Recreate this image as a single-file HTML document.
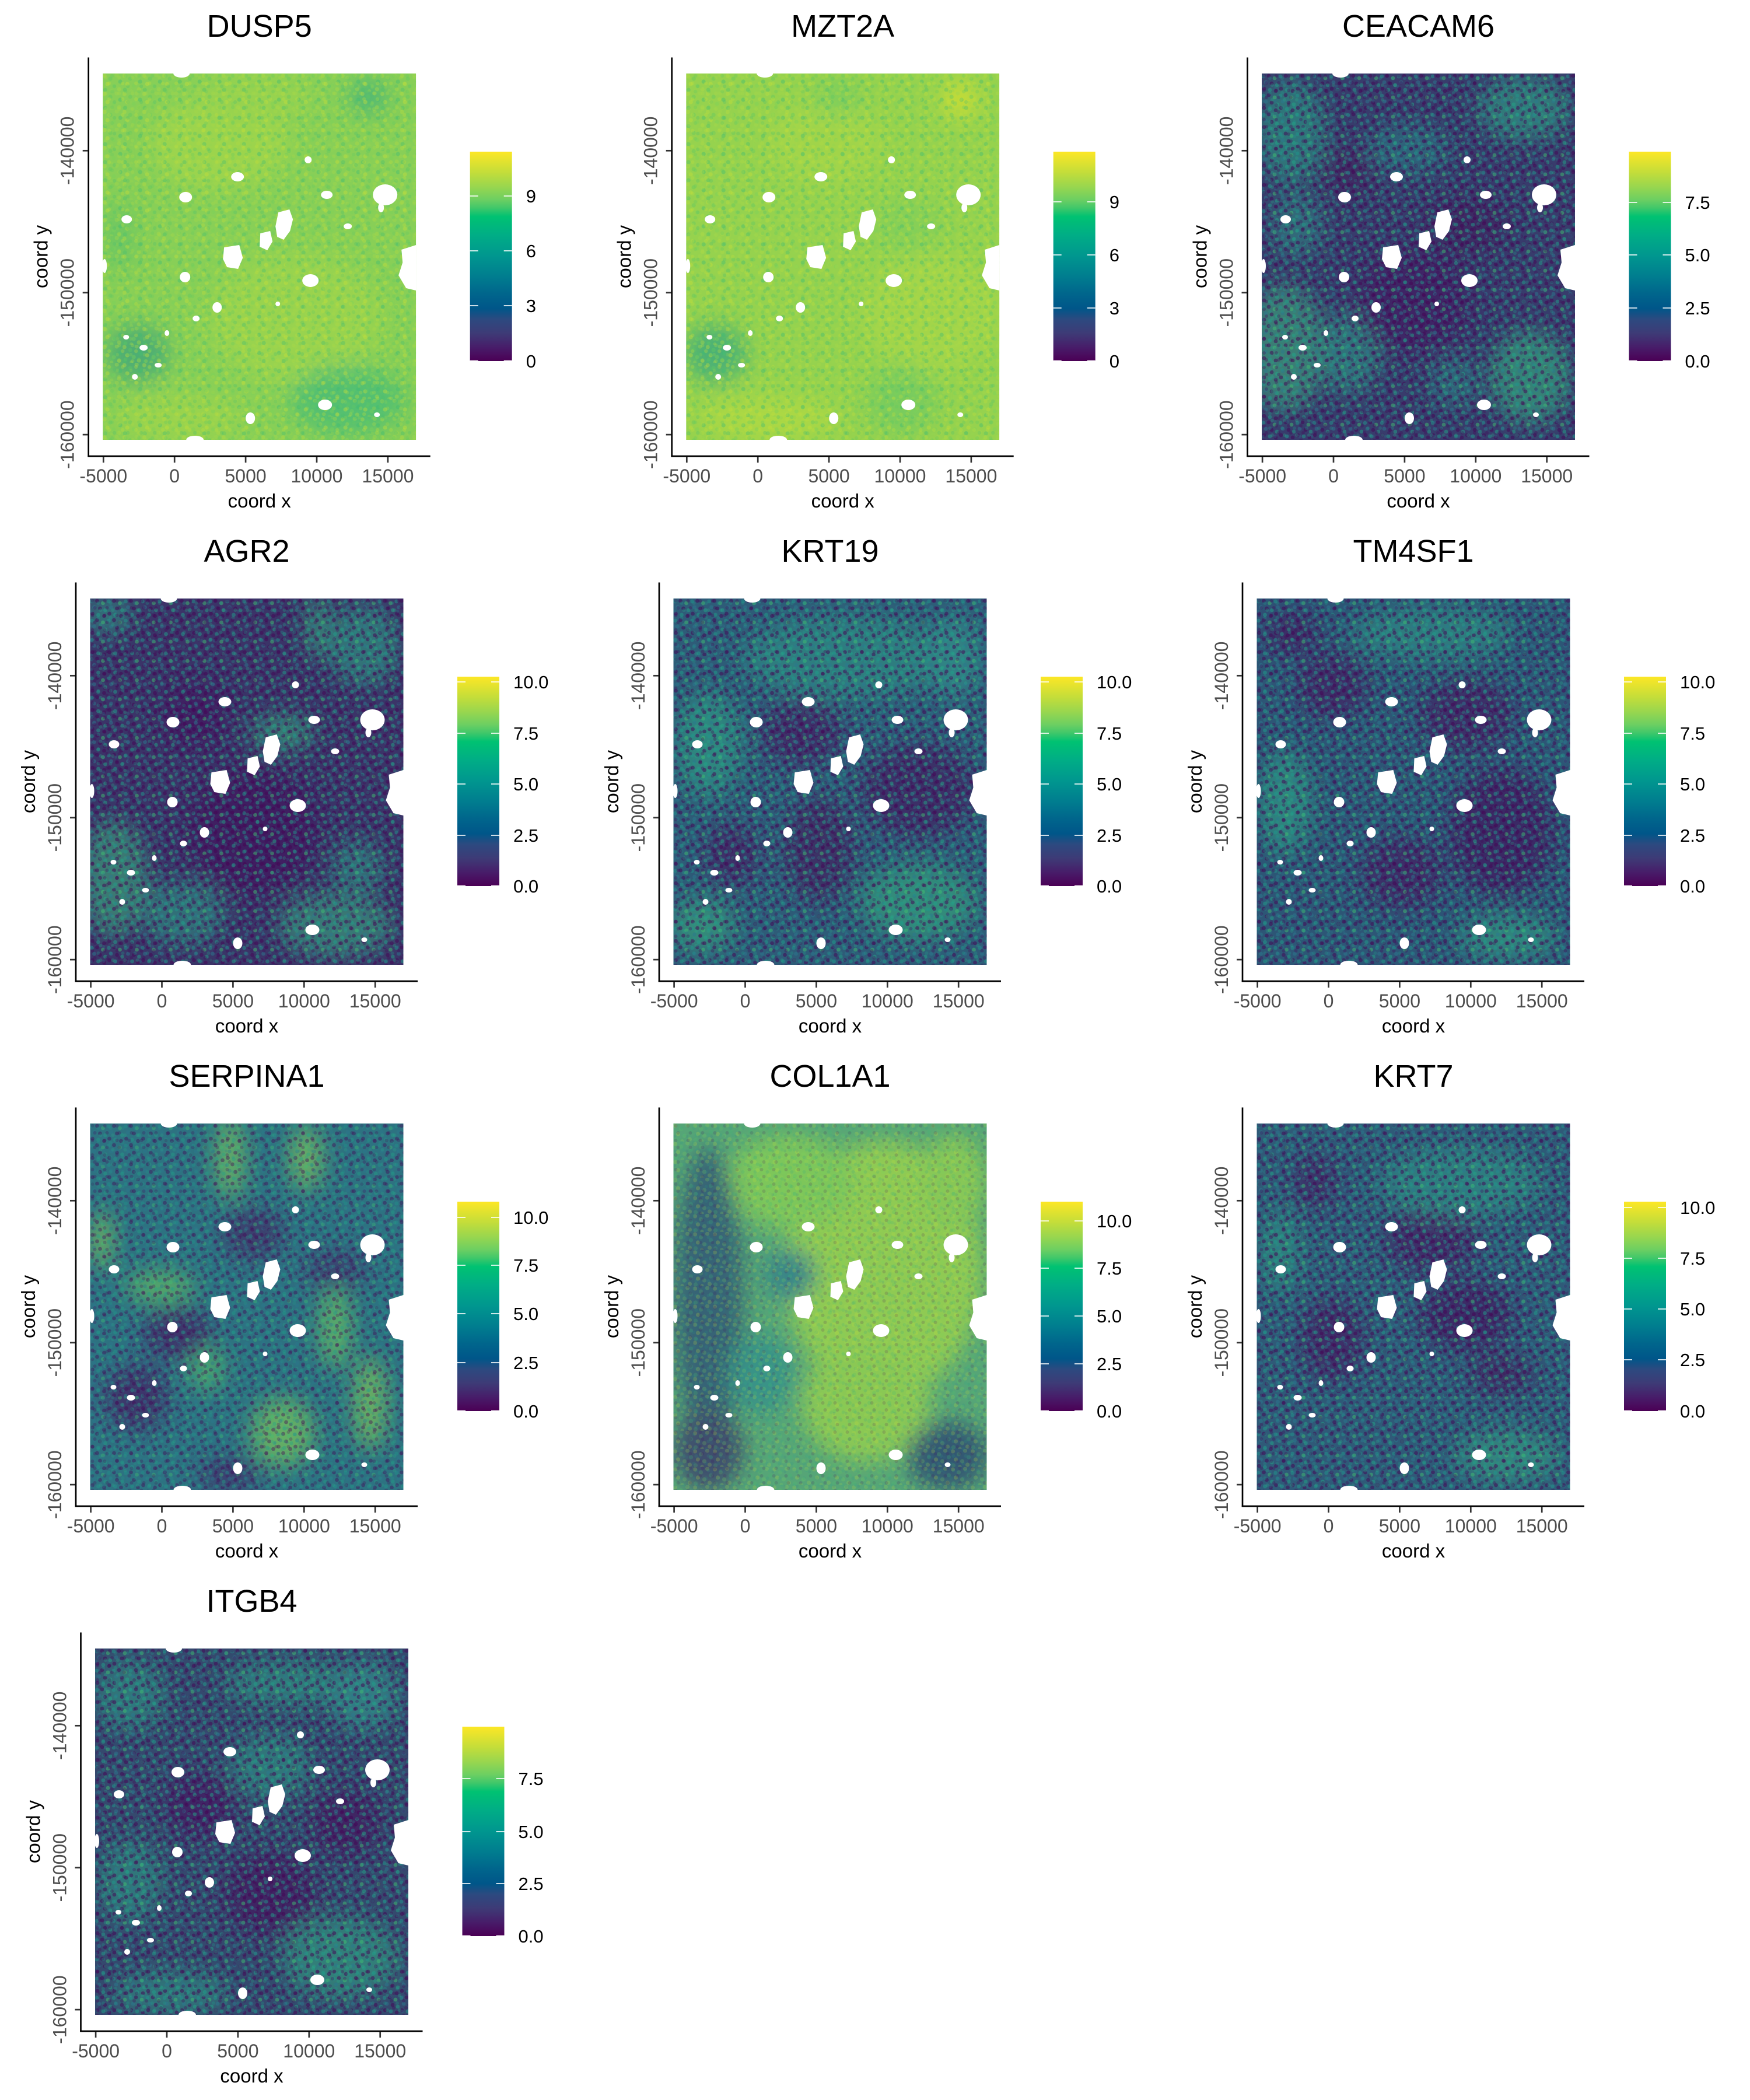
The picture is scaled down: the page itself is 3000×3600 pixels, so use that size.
<!DOCTYPE html>
<html><head><meta charset="utf-8"><style>
html,body{margin:0;padding:0;background:#fff;}
svg{display:block;}
text{font-family:"Liberation Sans",Arial,sans-serif;}
.t{font-size:54px;fill:#000;text-anchor:middle;}
.tk{font-size:32px;fill:#4d4d4d;text-anchor:middle;}
.at{font-size:33px;fill:#000;text-anchor:middle;}
.lg{font-size:31px;fill:#000;}
.al{stroke:#000;stroke-width:2.7;}
.tm{stroke:#333;stroke-width:2.7;}
.cw{stroke:#fff;stroke-width:1.6;}
</style></head><body>
<svg width="3000" height="3600" viewBox="0 0 3000 3600" xmlns="http://www.w3.org/2000/svg">
<defs>
<linearGradient id="cb" x1="0" y1="1" x2="0" y2="0">
<stop offset="0" stop-color="#4b0055"/><stop offset="0.06" stop-color="#481a68"/><stop offset="0.13" stop-color="#3e3a76"/><stop offset="0.2" stop-color="#2c4a80"/><stop offset="0.25" stop-color="#005689"/><stop offset="0.32" stop-color="#00658c"/><stop offset="0.4" stop-color="#007c8f"/><stop offset="0.5" stop-color="#00968f"/><stop offset="0.6" stop-color="#00ad86"/><stop offset="0.69" stop-color="#00c272"/><stop offset="0.73" stop-color="#3ec76a"/><stop offset="0.77" stop-color="#6ccf62"/><stop offset="0.83" stop-color="#97d64f"/><stop offset="0.9" stop-color="#c3dd3a"/><stop offset="1" stop-color="#fde725"/>
</linearGradient>
<clipPath id="dc"><rect width="537" height="628"/></clipPath>
<filter id="bl" x="-50%" y="-50%" width="200%" height="200%"><feGaussianBlur stdDeviation="18"/></filter>
<pattern id="spG" width="34" height="31" patternUnits="userSpaceOnUse">
<circle cx="3" cy="4" r="3.6" fill="#b9db3e"/><circle cx="13" cy="9" r="3.6" fill="#5ec862"/><circle cx="24" cy="3" r="3.6" fill="#a2d64a"/><circle cx="30" cy="14" r="3.6" fill="#3cbb74"/><circle cx="8" cy="18" r="3.6" fill="#c6df38"/><circle cx="19" cy="21" r="3.6" fill="#7ad15a"/><circle cx="28" cy="27" r="3.6" fill="#aed943"/><circle cx="4" cy="28" r="3.6" fill="#4cc06c"/><circle cx="15" cy="30" r="3" fill="#95d44f"/>
</pattern>
<pattern id="spG2" width="23" height="27" patternUnits="userSpaceOnUse">
<circle cx="5" cy="7" r="3.2" fill="#a9d846"/><circle cx="16" cy="4" r="3.2" fill="#62c960"/><circle cx="11" cy="17" r="3.2" fill="#c2de3a"/><circle cx="20" cy="22" r="3.2" fill="#4dbf6c"/><circle cx="2" cy="23" r="3" fill="#8dd152"/>
</pattern>
<pattern id="spD" width="29" height="33" patternUnits="userSpaceOnUse">
<circle cx="3" cy="5" r="3.4" fill="#1f968b"/><circle cx="12" cy="4" r="3.4" fill="#440154"/><circle cx="22" cy="8" r="3.4" fill="#3fbf70"/><circle cx="7" cy="15" r="3.4" fill="#2a788e"/><circle cx="17" cy="17" r="3.4" fill="#440154"/><circle cx="26" cy="20" r="3.4" fill="#21a585"/><circle cx="4" cy="26" r="3.4" fill="#440154"/><circle cx="14" cy="28" r="3.4" fill="#1f9e89"/><circle cx="24" cy="30" r="3.4" fill="#440154"/>
</pattern>
<pattern id="spD2" width="21" height="25" patternUnits="userSpaceOnUse">
<circle cx="4" cy="4" r="3" fill="#440154"/><circle cx="14" cy="8" r="3" fill="#1f9a8a"/><circle cx="8" cy="16" r="3" fill="#440154"/><circle cx="18" cy="20" r="3" fill="#27a98a"/><circle cx="2" cy="22" r="2.6" fill="#2a788e"/>
</pattern>
<g id="holes" fill="#fff">
<ellipse cx="484" cy="208" rx="21" ry="18"/><ellipse cx="477" cy="230" rx="5" ry="8"/>
<path d="M301,238 L320,233 L326,250 L321,270 L310,285 L299,280 L296,262 Z"/>
<path d="M270,274 L287,270 L291,288 L282,303 L269,297 Z"/>
<path d="M208,298 L234,294 L240,316 L232,335 L213,332 L206,318 Z"/>
<ellipse cx="141" cy="349" rx="9" ry="9"/><ellipse cx="356" cy="355" rx="14" ry="11"/>
<ellipse cx="352" cy="148" rx="6" ry="6"/><ellipse cx="231" cy="177" rx="11" ry="8"/>
<ellipse cx="142" cy="212" rx="11" ry="9"/><ellipse cx="196" cy="401" rx="8" ry="9"/>
<ellipse cx="41" cy="250" rx="9" ry="7"/><ellipse cx="40" cy="452" rx="5" ry="4"/>
<ellipse cx="70" cy="470" rx="7" ry="5"/><ellipse cx="95" cy="500" rx="6" ry="4"/>
<ellipse cx="55" cy="520" rx="5" ry="5"/><ellipse cx="110" cy="445" rx="4" ry="5"/>
<ellipse cx="381" cy="568" rx="12" ry="9"/><ellipse cx="253" cy="591" rx="8" ry="10"/>
<path d="M512,302 L537,294 L537,372 L520,368 L507,346 L514,324 Z"/>
<ellipse cx="135" cy="0" rx="14" ry="7"/><ellipse cx="158" cy="628" rx="15" ry="7"/>
<ellipse cx="384" cy="208" rx="10" ry="7"/><ellipse cx="3" cy="330" rx="4" ry="12"/>
<ellipse cx="420" cy="262" rx="7" ry="5"/><ellipse cx="160" cy="420" rx="6" ry="5"/>
<ellipse cx="300" cy="395" rx="4" ry="4"/><ellipse cx="470" cy="585" rx="5" ry="4"/>
</g>
</defs>
<rect width="3000" height="3600" fill="#fff"/>

<!-- ============ DUSP5 ============ -->
<g transform="translate(151.7,0)">
<text class="t" x="293" y="63">DUSP5</text>
<g transform="translate(24.5,126)">
<g clip-path="url(#dc)">
<rect width="537" height="628" fill="#88cf57"/>
<g filter="url(#bl)" opacity=".85">
<ellipse cx="200" cy="120" rx="120" ry="80" fill="#a0d54b"/><ellipse cx="330" cy="420" rx="150" ry="110" fill="#9cd44d"/>
<ellipse cx="130" cy="590" rx="110" ry="40" fill="#9ed44c"/><ellipse cx="260" cy="40" rx="100" ry="40" fill="#9ad34d"/>
<ellipse cx="420" cy="560" rx="100" ry="60" fill="#4cbd76"/><ellipse cx="455" cy="40" rx="35" ry="30" fill="#45b47a"/>
<ellipse cx="60" cy="480" rx="55" ry="50" fill="#45a878"/><ellipse cx="30" cy="280" rx="25" ry="60" fill="#66c466"/>
</g>
<rect width="537" height="628" fill="url(#spG)" opacity=".4"/>
<rect width="537" height="628" fill="url(#spG2)" opacity=".3"/>
</g>
<use href="#holes"/>
</g>
<line class="al" x1="0" y1="98.5" x2="0" y2="783"/><line class="al" x1="-1.3" y1="782" x2="586" y2="782"/>
<line class="tm" x1="25.6" y1="783" x2="25.6" y2="793"/><line class="tm" x1="147.5" y1="783" x2="147.5" y2="793"/><line class="tm" x1="269.4" y1="783" x2="269.4" y2="793"/><line class="tm" x1="391.3" y1="783" x2="391.3" y2="793"/><line class="tm" x1="513.2" y1="783" x2="513.2" y2="793"/>
<line class="tm" x1="-10" y1="258.3" x2="-1" y2="258.3"/><line class="tm" x1="-10" y1="501.7" x2="-1" y2="501.7"/><line class="tm" x1="-10" y1="745.1" x2="-1" y2="745.1"/>
<text class="tk" x="25.6" y="827">-5000</text><text class="tk" x="147.5" y="827">0</text><text class="tk" x="269.4" y="827">5000</text><text class="tk" x="391.3" y="827">10000</text><text class="tk" x="513.2" y="827">15000</text>
<text class="tk" transform="translate(-25,258.3) rotate(-90)">-140000</text><text class="tk" transform="translate(-25,501.7) rotate(-90)">-150000</text><text class="tk" transform="translate(-25,745.1) rotate(-90)">-160000</text>
<text class="at" x="293" y="870">coord x</text><text class="at" transform="translate(-70,440) rotate(-90)">coord y</text>
<rect x="654" y="260" width="72" height="359" fill="url(#cb)"/>
<line class="cw" x1="654" y1="336" x2="668" y2="336"/><line class="cw" x1="712" y1="336" x2="726" y2="336"/>
<line class="cw" x1="654" y1="430" x2="668" y2="430"/><line class="cw" x1="712" y1="430" x2="726" y2="430"/>
<line class="cw" x1="654" y1="524" x2="668" y2="524"/><line class="cw" x1="712" y1="524" x2="726" y2="524"/>
<line class="cw" x1="654" y1="618.5" x2="668" y2="618.5"/><line class="cw" x1="712" y1="618.5" x2="726" y2="618.5"/>
<text class="lg" x="750" y="347">9</text><text class="lg" x="750" y="441">6</text><text class="lg" x="750" y="535">3</text><text class="lg" x="750" y="630">0</text>
</g>

<!-- ============ MZT2A ============ -->
<g transform="translate(1151.7,0)">
<text class="t" x="293" y="63">MZT2A</text>
<g transform="translate(24.5,126)">
<g clip-path="url(#dc)">
<rect width="537" height="628" fill="#96d24e"/>
<g filter="url(#bl)" opacity=".85">
<ellipse cx="470" cy="45" rx="32" ry="32" fill="#d0de33"/><ellipse cx="140" cy="590" rx="120" ry="35" fill="#b0d943"/>
<ellipse cx="420" cy="410" rx="120" ry="100" fill="#a6d648"/><ellipse cx="240" cy="120" rx="100" ry="70" fill="#a4d549"/>
<ellipse cx="50" cy="480" rx="55" ry="50" fill="#40ac7c"/><ellipse cx="370" cy="560" rx="60" ry="60" fill="#74cb60"/>
<ellipse cx="260" cy="40" rx="40" ry="30" fill="#78cc5e"/><ellipse cx="380" cy="260" rx="60" ry="50" fill="#84cf58"/>
</g>
<rect width="537" height="628" fill="url(#spG)" opacity=".4"/>
<rect width="537" height="628" fill="url(#spG2)" opacity=".3"/>
</g>
<use href="#holes"/>
</g>
<line class="al" x1="0" y1="98.5" x2="0" y2="783"/><line class="al" x1="-1.3" y1="782" x2="586" y2="782"/>
<line class="tm" x1="25.6" y1="783" x2="25.6" y2="793"/><line class="tm" x1="147.5" y1="783" x2="147.5" y2="793"/><line class="tm" x1="269.4" y1="783" x2="269.4" y2="793"/><line class="tm" x1="391.3" y1="783" x2="391.3" y2="793"/><line class="tm" x1="513.2" y1="783" x2="513.2" y2="793"/>
<line class="tm" x1="-10" y1="258.3" x2="-1" y2="258.3"/><line class="tm" x1="-10" y1="501.7" x2="-1" y2="501.7"/><line class="tm" x1="-10" y1="745.1" x2="-1" y2="745.1"/>
<text class="tk" x="25.6" y="827">-5000</text><text class="tk" x="147.5" y="827">0</text><text class="tk" x="269.4" y="827">5000</text><text class="tk" x="391.3" y="827">10000</text><text class="tk" x="513.2" y="827">15000</text>
<text class="tk" transform="translate(-25,258.3) rotate(-90)">-140000</text><text class="tk" transform="translate(-25,501.7) rotate(-90)">-150000</text><text class="tk" transform="translate(-25,745.1) rotate(-90)">-160000</text>
<text class="at" x="293" y="870">coord x</text><text class="at" transform="translate(-70,440) rotate(-90)">coord y</text>
<rect x="654" y="260" width="72" height="359" fill="url(#cb)"/>
<line class="cw" x1="654" y1="346" x2="668" y2="346"/><line class="cw" x1="712" y1="346" x2="726" y2="346"/>
<line class="cw" x1="654" y1="437" x2="668" y2="437"/><line class="cw" x1="712" y1="437" x2="726" y2="437"/>
<line class="cw" x1="654" y1="528" x2="668" y2="528"/><line class="cw" x1="712" y1="528" x2="726" y2="528"/>
<line class="cw" x1="654" y1="618.5" x2="668" y2="618.5"/><line class="cw" x1="712" y1="618.5" x2="726" y2="618.5"/>
<text class="lg" x="750" y="357">9</text><text class="lg" x="750" y="448">6</text><text class="lg" x="750" y="539">3</text><text class="lg" x="750" y="630">0</text>
</g>

<!-- ============ CEACAM6 ============ -->
<g transform="translate(2138.5,0)">
<text class="t" x="293" y="63">CEACAM6</text>
<g transform="translate(24.5,126)">
<g clip-path="url(#dc)">
<rect width="537" height="628" fill="#383c6c"/>
<g filter="url(#bl)" opacity=".7">
<ellipse cx="50" cy="100" rx="60" ry="90" fill="#2c8f80"/><ellipse cx="450" cy="60" rx="80" ry="55" fill="#2e9480"/>
<ellipse cx="40" cy="470" rx="70" ry="110" fill="#3a9a7a"/><ellipse cx="150" cy="480" rx="50" ry="70" fill="#2f8a80"/>
<ellipse cx="460" cy="520" rx="70" ry="80" fill="#35a07c"/><ellipse cx="60" cy="260" rx="45" ry="55" fill="#2f8080"/>
<ellipse cx="250" cy="130" rx="70" ry="45" fill="#2a7580"/><ellipse cx="330" cy="530" rx="40" ry="40" fill="#2c7d80"/>
<ellipse cx="260" cy="390" rx="100" ry="90" fill="#421a63"/><ellipse cx="350" cy="260" rx="70" ry="50" fill="#41205f"/>
<ellipse cx="150" cy="170" rx="40" ry="40" fill="#43205f"/>
</g>
<rect width="537" height="628" fill="url(#spD)" opacity=".5"/>
<rect width="537" height="628" fill="url(#spD2)" opacity=".3"/>
</g>
<use href="#holes"/>
</g>
<line class="al" x1="0" y1="98.5" x2="0" y2="783"/><line class="al" x1="-1.3" y1="782" x2="586" y2="782"/>
<line class="tm" x1="25.6" y1="783" x2="25.6" y2="793"/><line class="tm" x1="147.5" y1="783" x2="147.5" y2="793"/><line class="tm" x1="269.4" y1="783" x2="269.4" y2="793"/><line class="tm" x1="391.3" y1="783" x2="391.3" y2="793"/><line class="tm" x1="513.2" y1="783" x2="513.2" y2="793"/>
<line class="tm" x1="-10" y1="258.3" x2="-1" y2="258.3"/><line class="tm" x1="-10" y1="501.7" x2="-1" y2="501.7"/><line class="tm" x1="-10" y1="745.1" x2="-1" y2="745.1"/>
<text class="tk" x="25.6" y="827">-5000</text><text class="tk" x="147.5" y="827">0</text><text class="tk" x="269.4" y="827">5000</text><text class="tk" x="391.3" y="827">10000</text><text class="tk" x="513.2" y="827">15000</text>
<text class="tk" transform="translate(-25,258.3) rotate(-90)">-140000</text><text class="tk" transform="translate(-25,501.7) rotate(-90)">-150000</text><text class="tk" transform="translate(-25,745.1) rotate(-90)">-160000</text>
<text class="at" x="293" y="870">coord x</text><text class="at" transform="translate(-70,440) rotate(-90)">coord y</text>
<rect x="654" y="260" width="72" height="359" fill="url(#cb)"/>
<line class="cw" x1="654" y1="347" x2="668" y2="347"/><line class="cw" x1="712" y1="347" x2="726" y2="347"/>
<line class="cw" x1="654" y1="437" x2="668" y2="437"/><line class="cw" x1="712" y1="437" x2="726" y2="437"/>
<line class="cw" x1="654" y1="528" x2="668" y2="528"/><line class="cw" x1="712" y1="528" x2="726" y2="528"/>
<line class="cw" x1="654" y1="618.5" x2="668" y2="618.5"/><line class="cw" x1="712" y1="618.5" x2="726" y2="618.5"/>
<text class="lg" x="750" y="358">7.5</text><text class="lg" x="750" y="448">5.0</text><text class="lg" x="750" y="539">2.5</text><text class="lg" x="750" y="630">0.0</text>
</g>

<!-- ============ AGR2 ============ -->
<g transform="translate(130,900)">
<text class="t" x="293" y="63">AGR2</text>
<g transform="translate(24.5,126)">
<g clip-path="url(#dc)">
<rect width="537" height="628" fill="#3b3468"/>
<g filter="url(#bl)" opacity=".7">
<ellipse cx="30" cy="30" rx="45" ry="35" fill="#2d8a80"/><ellipse cx="390" cy="50" rx="22" ry="55" fill="#35a07a"/>
<ellipse cx="470" cy="80" rx="60" ry="70" fill="#2f8f80"/><ellipse cx="330" cy="230" rx="55" ry="30" fill="#35a07a"/>
<ellipse cx="40" cy="480" rx="60" ry="100" fill="#3a9878"/><ellipse cx="160" cy="540" rx="70" ry="55" fill="#2f8a80"/>
<ellipse cx="420" cy="560" rx="100" ry="55" fill="#37967c"/><ellipse cx="460" cy="460" rx="45" ry="45" fill="#2f8a7f"/>
<ellipse cx="280" cy="400" rx="110" ry="110" fill="#43155f"/><ellipse cx="180" cy="200" rx="55" ry="55" fill="#431860"/>
</g>
<rect width="537" height="628" fill="url(#spD)" opacity=".5"/>
<rect width="537" height="628" fill="url(#spD2)" opacity=".3"/>
</g>
<use href="#holes"/>
</g>
<line class="al" x1="0" y1="98.5" x2="0" y2="783"/><line class="al" x1="-1.3" y1="782" x2="586" y2="782"/>
<line class="tm" x1="25.6" y1="783" x2="25.6" y2="793"/><line class="tm" x1="147.5" y1="783" x2="147.5" y2="793"/><line class="tm" x1="269.4" y1="783" x2="269.4" y2="793"/><line class="tm" x1="391.3" y1="783" x2="391.3" y2="793"/><line class="tm" x1="513.2" y1="783" x2="513.2" y2="793"/>
<line class="tm" x1="-10" y1="258.3" x2="-1" y2="258.3"/><line class="tm" x1="-10" y1="501.7" x2="-1" y2="501.7"/><line class="tm" x1="-10" y1="745.1" x2="-1" y2="745.1"/>
<text class="tk" x="25.6" y="827">-5000</text><text class="tk" x="147.5" y="827">0</text><text class="tk" x="269.4" y="827">5000</text><text class="tk" x="391.3" y="827">10000</text><text class="tk" x="513.2" y="827">15000</text>
<text class="tk" transform="translate(-25,258.3) rotate(-90)">-140000</text><text class="tk" transform="translate(-25,501.7) rotate(-90)">-150000</text><text class="tk" transform="translate(-25,745.1) rotate(-90)">-160000</text>
<text class="at" x="293" y="870">coord x</text><text class="at" transform="translate(-70,440) rotate(-90)">coord y</text>
<rect x="654" y="260" width="72" height="359" fill="url(#cb)"/>
<line class="cw" x1="654" y1="269" x2="668" y2="269"/><line class="cw" x1="712" y1="269" x2="726" y2="269"/>
<line class="cw" x1="654" y1="357" x2="668" y2="357"/><line class="cw" x1="712" y1="357" x2="726" y2="357"/>
<line class="cw" x1="654" y1="444" x2="668" y2="444"/><line class="cw" x1="712" y1="444" x2="726" y2="444"/>
<line class="cw" x1="654" y1="532" x2="668" y2="532"/><line class="cw" x1="712" y1="532" x2="726" y2="532"/>
<line class="cw" x1="654" y1="618.5" x2="668" y2="618.5"/><line class="cw" x1="712" y1="618.5" x2="726" y2="618.5"/>
<text class="lg" x="750" y="280">10.0</text><text class="lg" x="750" y="368">7.5</text><text class="lg" x="750" y="455">5.0</text><text class="lg" x="750" y="543">2.5</text><text class="lg" x="750" y="630">0.0</text>
</g>

<!-- ============ KRT19 ============ -->
<g transform="translate(1130,900)">
<text class="t" x="293" y="63">KRT19</text>
<g transform="translate(24.5,126)">
<g clip-path="url(#dc)">
<rect width="537" height="628" fill="#2e5c78"/>
<g filter="url(#bl)" opacity=".7">
<ellipse cx="60" cy="250" rx="55" ry="90" fill="#2f9a82"/><ellipse cx="300" cy="100" rx="180" ry="70" fill="#2f8c82"/>
<ellipse cx="420" cy="520" rx="100" ry="65" fill="#35a07c"/><ellipse cx="50" cy="560" rx="55" ry="45" fill="#38a07c"/>
<ellipse cx="480" cy="100" rx="45" ry="70" fill="#30948a"/>
<ellipse cx="220" cy="230" rx="70" ry="55" fill="#441a62"/><ellipse cx="420" cy="330" rx="100" ry="80" fill="#431a61"/>
<ellipse cx="250" cy="430" rx="60" ry="90" fill="#43205f"/><ellipse cx="100" cy="440" rx="45" ry="55" fill="#441c62"/>
</g>
<rect width="537" height="628" fill="url(#spD)" opacity=".5"/>
<rect width="537" height="628" fill="url(#spD2)" opacity=".3"/>
</g>
<use href="#holes"/>
</g>
<line class="al" x1="0" y1="98.5" x2="0" y2="783"/><line class="al" x1="-1.3" y1="782" x2="586" y2="782"/>
<line class="tm" x1="25.6" y1="783" x2="25.6" y2="793"/><line class="tm" x1="147.5" y1="783" x2="147.5" y2="793"/><line class="tm" x1="269.4" y1="783" x2="269.4" y2="793"/><line class="tm" x1="391.3" y1="783" x2="391.3" y2="793"/><line class="tm" x1="513.2" y1="783" x2="513.2" y2="793"/>
<line class="tm" x1="-10" y1="258.3" x2="-1" y2="258.3"/><line class="tm" x1="-10" y1="501.7" x2="-1" y2="501.7"/><line class="tm" x1="-10" y1="745.1" x2="-1" y2="745.1"/>
<text class="tk" x="25.6" y="827">-5000</text><text class="tk" x="147.5" y="827">0</text><text class="tk" x="269.4" y="827">5000</text><text class="tk" x="391.3" y="827">10000</text><text class="tk" x="513.2" y="827">15000</text>
<text class="tk" transform="translate(-25,258.3) rotate(-90)">-140000</text><text class="tk" transform="translate(-25,501.7) rotate(-90)">-150000</text><text class="tk" transform="translate(-25,745.1) rotate(-90)">-160000</text>
<text class="at" x="293" y="870">coord x</text><text class="at" transform="translate(-70,440) rotate(-90)">coord y</text>
<rect x="654" y="260" width="72" height="359" fill="url(#cb)"/>
<line class="cw" x1="654" y1="269" x2="668" y2="269"/><line class="cw" x1="712" y1="269" x2="726" y2="269"/>
<line class="cw" x1="654" y1="357" x2="668" y2="357"/><line class="cw" x1="712" y1="357" x2="726" y2="357"/>
<line class="cw" x1="654" y1="444" x2="668" y2="444"/><line class="cw" x1="712" y1="444" x2="726" y2="444"/>
<line class="cw" x1="654" y1="532" x2="668" y2="532"/><line class="cw" x1="712" y1="532" x2="726" y2="532"/>
<line class="cw" x1="654" y1="618.5" x2="668" y2="618.5"/><line class="cw" x1="712" y1="618.5" x2="726" y2="618.5"/>
<text class="lg" x="750" y="280">10.0</text><text class="lg" x="750" y="368">7.5</text><text class="lg" x="750" y="455">5.0</text><text class="lg" x="750" y="543">2.5</text><text class="lg" x="750" y="630">0.0</text>
</g>

<!-- ============ TM4SF1 ============ -->
<g transform="translate(2130,900)">
<text class="t" x="293" y="63">TM4SF1</text>
<g transform="translate(24.5,126)">
<g clip-path="url(#dc)">
<rect width="537" height="628" fill="#2d5676"/>
<g filter="url(#bl)" opacity=".7">
<ellipse cx="130" cy="150" rx="60" ry="55" fill="#441c62"/><ellipse cx="360" cy="200" rx="80" ry="60" fill="#441c62"/>
<ellipse cx="420" cy="400" rx="90" ry="110" fill="#43195f"/><ellipse cx="250" cy="470" rx="70" ry="60" fill="#441c62"/>
<ellipse cx="60" cy="60" rx="45" ry="35" fill="#45195f"/>
<ellipse cx="50" cy="350" rx="45" ry="90" fill="#2f9a82"/><ellipse cx="300" cy="60" rx="140" ry="45" fill="#2e8c82"/>
<ellipse cx="430" cy="580" rx="85" ry="38" fill="#329a80"/>
</g>
<rect width="537" height="628" fill="url(#spD)" opacity=".5"/>
<rect width="537" height="628" fill="url(#spD2)" opacity=".3"/>
</g>
<use href="#holes"/>
</g>
<line class="al" x1="0" y1="98.5" x2="0" y2="783"/><line class="al" x1="-1.3" y1="782" x2="586" y2="782"/>
<line class="tm" x1="25.6" y1="783" x2="25.6" y2="793"/><line class="tm" x1="147.5" y1="783" x2="147.5" y2="793"/><line class="tm" x1="269.4" y1="783" x2="269.4" y2="793"/><line class="tm" x1="391.3" y1="783" x2="391.3" y2="793"/><line class="tm" x1="513.2" y1="783" x2="513.2" y2="793"/>
<line class="tm" x1="-10" y1="258.3" x2="-1" y2="258.3"/><line class="tm" x1="-10" y1="501.7" x2="-1" y2="501.7"/><line class="tm" x1="-10" y1="745.1" x2="-1" y2="745.1"/>
<text class="tk" x="25.6" y="827">-5000</text><text class="tk" x="147.5" y="827">0</text><text class="tk" x="269.4" y="827">5000</text><text class="tk" x="391.3" y="827">10000</text><text class="tk" x="513.2" y="827">15000</text>
<text class="tk" transform="translate(-25,258.3) rotate(-90)">-140000</text><text class="tk" transform="translate(-25,501.7) rotate(-90)">-150000</text><text class="tk" transform="translate(-25,745.1) rotate(-90)">-160000</text>
<text class="at" x="293" y="870">coord x</text><text class="at" transform="translate(-70,440) rotate(-90)">coord y</text>
<rect x="654" y="260" width="72" height="359" fill="url(#cb)"/>
<line class="cw" x1="654" y1="269" x2="668" y2="269"/><line class="cw" x1="712" y1="269" x2="726" y2="269"/>
<line class="cw" x1="654" y1="357" x2="668" y2="357"/><line class="cw" x1="712" y1="357" x2="726" y2="357"/>
<line class="cw" x1="654" y1="444" x2="668" y2="444"/><line class="cw" x1="712" y1="444" x2="726" y2="444"/>
<line class="cw" x1="654" y1="532" x2="668" y2="532"/><line class="cw" x1="712" y1="532" x2="726" y2="532"/>
<line class="cw" x1="654" y1="618.5" x2="668" y2="618.5"/><line class="cw" x1="712" y1="618.5" x2="726" y2="618.5"/>
<text class="lg" x="750" y="280">10.0</text><text class="lg" x="750" y="368">7.5</text><text class="lg" x="750" y="455">5.0</text><text class="lg" x="750" y="543">2.5</text><text class="lg" x="750" y="630">0.0</text>
</g>

<!-- ============ SERPINA1 ============ -->
<g transform="translate(130,1800)">
<text class="t" x="293" y="63">SERPINA1</text>
<g transform="translate(24.5,126)">
<g clip-path="url(#dc)">
<rect width="537" height="628" fill="#2d7281"/>
<g filter="url(#bl)" opacity=".7">
<ellipse cx="240" cy="60" rx="25" ry="70" fill="#7fca5a"/><ellipse cx="370" cy="60" rx="28" ry="55" fill="#84cb58"/>
<ellipse cx="420" cy="350" rx="28" ry="70" fill="#6fc55e"/><ellipse cx="120" cy="280" rx="60" ry="28" fill="#66c060"/>
<ellipse cx="330" cy="530" rx="55" ry="60" fill="#7cc85a"/><ellipse cx="480" cy="480" rx="28" ry="80" fill="#86cc55"/>
<ellipse cx="20" cy="200" rx="18" ry="50" fill="#8cce52"/><ellipse cx="200" cy="420" rx="30" ry="40" fill="#58ba68"/>
<ellipse cx="150" cy="360" rx="60" ry="45" fill="#441f62"/><ellipse cx="80" cy="470" rx="55" ry="55" fill="#441f62"/>
<ellipse cx="280" cy="190" rx="55" ry="45" fill="#422a66"/><ellipse cx="420" cy="250" rx="55" ry="35" fill="#40306a"/>
<ellipse cx="240" cy="600" rx="55" ry="28" fill="#422567"/>
</g>
<rect width="537" height="628" fill="url(#spD)" opacity=".4"/>
<rect width="537" height="628" fill="url(#spD2)" opacity=".25"/>
</g>
<use href="#holes"/>
</g>
<line class="al" x1="0" y1="98.5" x2="0" y2="783"/><line class="al" x1="-1.3" y1="782" x2="586" y2="782"/>
<line class="tm" x1="25.6" y1="783" x2="25.6" y2="793"/><line class="tm" x1="147.5" y1="783" x2="147.5" y2="793"/><line class="tm" x1="269.4" y1="783" x2="269.4" y2="793"/><line class="tm" x1="391.3" y1="783" x2="391.3" y2="793"/><line class="tm" x1="513.2" y1="783" x2="513.2" y2="793"/>
<line class="tm" x1="-10" y1="258.3" x2="-1" y2="258.3"/><line class="tm" x1="-10" y1="501.7" x2="-1" y2="501.7"/><line class="tm" x1="-10" y1="745.1" x2="-1" y2="745.1"/>
<text class="tk" x="25.6" y="827">-5000</text><text class="tk" x="147.5" y="827">0</text><text class="tk" x="269.4" y="827">5000</text><text class="tk" x="391.3" y="827">10000</text><text class="tk" x="513.2" y="827">15000</text>
<text class="tk" transform="translate(-25,258.3) rotate(-90)">-140000</text><text class="tk" transform="translate(-25,501.7) rotate(-90)">-150000</text><text class="tk" transform="translate(-25,745.1) rotate(-90)">-160000</text>
<text class="at" x="293" y="870">coord x</text><text class="at" transform="translate(-70,440) rotate(-90)">coord y</text>
<rect x="654" y="260" width="72" height="359" fill="url(#cb)"/>
<line class="cw" x1="654" y1="287" x2="668" y2="287"/><line class="cw" x1="712" y1="287" x2="726" y2="287"/>
<line class="cw" x1="654" y1="369" x2="668" y2="369"/><line class="cw" x1="712" y1="369" x2="726" y2="369"/>
<line class="cw" x1="654" y1="452" x2="668" y2="452"/><line class="cw" x1="712" y1="452" x2="726" y2="452"/>
<line class="cw" x1="654" y1="536" x2="668" y2="536"/><line class="cw" x1="712" y1="536" x2="726" y2="536"/>
<line class="cw" x1="654" y1="618.5" x2="668" y2="618.5"/><line class="cw" x1="712" y1="618.5" x2="726" y2="618.5"/>
<text class="lg" x="750" y="298">10.0</text><text class="lg" x="750" y="380">7.5</text><text class="lg" x="750" y="463">5.0</text><text class="lg" x="750" y="547">2.5</text><text class="lg" x="750" y="630">0.0</text>
</g>

<!-- ============ COL1A1 ============ -->
<g transform="translate(1130,1800)">
<text class="t" x="293" y="63">COL1A1</text>
<g transform="translate(24.5,126)">
<g clip-path="url(#dc)">
<rect width="537" height="628" fill="#56a577"/>
<g filter="url(#bl)" opacity=".85">
<ellipse cx="360" cy="250" rx="170" ry="220" fill="#9ad14e"/><ellipse cx="330" cy="480" rx="110" ry="100" fill="#94cf50"/>
<ellipse cx="200" cy="100" rx="110" ry="80" fill="#84cc56"/><ellipse cx="480" cy="100" rx="55" ry="80" fill="#90ce51"/>
<ellipse cx="60" cy="300" rx="60" ry="260" fill="#325876"/><ellipse cx="60" cy="560" rx="60" ry="70" fill="#3b406c"/>
<ellipse cx="470" cy="570" rx="70" ry="60" fill="#2e4c72"/><ellipse cx="150" cy="430" rx="55" ry="70" fill="#34908a"/>
<ellipse cx="200" cy="260" rx="45" ry="45" fill="#34808a"/>
</g>
<rect width="537" height="628" fill="url(#spG)" opacity=".22"/>
<rect width="537" height="628" fill="url(#spD2)" opacity=".15"/>
</g>
<use href="#holes"/>
</g>
<line class="al" x1="0" y1="98.5" x2="0" y2="783"/><line class="al" x1="-1.3" y1="782" x2="586" y2="782"/>
<line class="tm" x1="25.6" y1="783" x2="25.6" y2="793"/><line class="tm" x1="147.5" y1="783" x2="147.5" y2="793"/><line class="tm" x1="269.4" y1="783" x2="269.4" y2="793"/><line class="tm" x1="391.3" y1="783" x2="391.3" y2="793"/><line class="tm" x1="513.2" y1="783" x2="513.2" y2="793"/>
<line class="tm" x1="-10" y1="258.3" x2="-1" y2="258.3"/><line class="tm" x1="-10" y1="501.7" x2="-1" y2="501.7"/><line class="tm" x1="-10" y1="745.1" x2="-1" y2="745.1"/>
<text class="tk" x="25.6" y="827">-5000</text><text class="tk" x="147.5" y="827">0</text><text class="tk" x="269.4" y="827">5000</text><text class="tk" x="391.3" y="827">10000</text><text class="tk" x="513.2" y="827">15000</text>
<text class="tk" transform="translate(-25,258.3) rotate(-90)">-140000</text><text class="tk" transform="translate(-25,501.7) rotate(-90)">-150000</text><text class="tk" transform="translate(-25,745.1) rotate(-90)">-160000</text>
<text class="at" x="293" y="870">coord x</text><text class="at" transform="translate(-70,440) rotate(-90)">coord y</text>
<rect x="654" y="260" width="72" height="359" fill="url(#cb)"/>
<line class="cw" x1="654" y1="293" x2="668" y2="293"/><line class="cw" x1="712" y1="293" x2="726" y2="293"/>
<line class="cw" x1="654" y1="374" x2="668" y2="374"/><line class="cw" x1="712" y1="374" x2="726" y2="374"/>
<line class="cw" x1="654" y1="456" x2="668" y2="456"/><line class="cw" x1="712" y1="456" x2="726" y2="456"/>
<line class="cw" x1="654" y1="538" x2="668" y2="538"/><line class="cw" x1="712" y1="538" x2="726" y2="538"/>
<line class="cw" x1="654" y1="618.5" x2="668" y2="618.5"/><line class="cw" x1="712" y1="618.5" x2="726" y2="618.5"/>
<text class="lg" x="750" y="304">10.0</text><text class="lg" x="750" y="385">7.5</text><text class="lg" x="750" y="467">5.0</text><text class="lg" x="750" y="549">2.5</text><text class="lg" x="750" y="630">0.0</text>
</g>

<!-- ============ KRT7 ============ -->
<g transform="translate(2130,1800)">
<text class="t" x="293" y="63">KRT7</text>
<g transform="translate(24.5,126)">
<g clip-path="url(#dc)">
<rect width="537" height="628" fill="#2f5a78"/>
<g filter="url(#bl)" opacity=".7">
<ellipse cx="300" cy="200" rx="80" ry="55" fill="#441a62"/><ellipse cx="360" cy="330" rx="80" ry="60" fill="#43195f"/>
<ellipse cx="130" cy="370" rx="55" ry="70" fill="#441c62"/><ellipse cx="100" cy="100" rx="35" ry="45" fill="#441c62"/>
<ellipse cx="420" cy="430" rx="55" ry="35" fill="#43205f"/>
<ellipse cx="350" cy="100" rx="140" ry="60" fill="#2e8c82"/><ellipse cx="430" cy="570" rx="90" ry="45" fill="#35987f"/>
<ellipse cx="40" cy="220" rx="35" ry="70" fill="#2e9080"/>
</g>
<rect width="537" height="628" fill="url(#spD)" opacity=".5"/>
<rect width="537" height="628" fill="url(#spD2)" opacity=".3"/>
</g>
<use href="#holes"/>
</g>
<line class="al" x1="0" y1="98.5" x2="0" y2="783"/><line class="al" x1="-1.3" y1="782" x2="586" y2="782"/>
<line class="tm" x1="25.6" y1="783" x2="25.6" y2="793"/><line class="tm" x1="147.5" y1="783" x2="147.5" y2="793"/><line class="tm" x1="269.4" y1="783" x2="269.4" y2="793"/><line class="tm" x1="391.3" y1="783" x2="391.3" y2="793"/><line class="tm" x1="513.2" y1="783" x2="513.2" y2="793"/>
<line class="tm" x1="-10" y1="258.3" x2="-1" y2="258.3"/><line class="tm" x1="-10" y1="501.7" x2="-1" y2="501.7"/><line class="tm" x1="-10" y1="745.1" x2="-1" y2="745.1"/>
<text class="tk" x="25.6" y="827">-5000</text><text class="tk" x="147.5" y="827">0</text><text class="tk" x="269.4" y="827">5000</text><text class="tk" x="391.3" y="827">10000</text><text class="tk" x="513.2" y="827">15000</text>
<text class="tk" transform="translate(-25,258.3) rotate(-90)">-140000</text><text class="tk" transform="translate(-25,501.7) rotate(-90)">-150000</text><text class="tk" transform="translate(-25,745.1) rotate(-90)">-160000</text>
<text class="at" x="293" y="870">coord x</text><text class="at" transform="translate(-70,440) rotate(-90)">coord y</text>
<rect x="654" y="260" width="72" height="359" fill="url(#cb)"/>
<line class="cw" x1="654" y1="270" x2="668" y2="270"/><line class="cw" x1="712" y1="270" x2="726" y2="270"/>
<line class="cw" x1="654" y1="357" x2="668" y2="357"/><line class="cw" x1="712" y1="357" x2="726" y2="357"/>
<line class="cw" x1="654" y1="444" x2="668" y2="444"/><line class="cw" x1="712" y1="444" x2="726" y2="444"/>
<line class="cw" x1="654" y1="531" x2="668" y2="531"/><line class="cw" x1="712" y1="531" x2="726" y2="531"/>
<line class="cw" x1="654" y1="618.5" x2="668" y2="618.5"/><line class="cw" x1="712" y1="618.5" x2="726" y2="618.5"/>
<text class="lg" x="750" y="281">10.0</text><text class="lg" x="750" y="368">7.5</text><text class="lg" x="750" y="455">5.0</text><text class="lg" x="750" y="542">2.5</text><text class="lg" x="750" y="630">0.0</text>
</g>

<!-- ============ ITGB4 ============ -->
<g transform="translate(138.5,2700)">
<text class="t" x="293" y="63">ITGB4</text>
<g transform="translate(24.5,126)">
<g clip-path="url(#dc)">
<rect width="537" height="628" fill="#35496e"/>
<g filter="url(#bl)" opacity=".7">
<ellipse cx="60" cy="80" rx="60" ry="60" fill="#2d8a80"/><ellipse cx="330" cy="60" rx="110" ry="38" fill="#2f9080"/>
<ellipse cx="460" cy="80" rx="60" ry="60" fill="#30938a"/><ellipse cx="300" cy="200" rx="70" ry="55" fill="#2e8a80"/>
<ellipse cx="60" cy="400" rx="55" ry="70" fill="#2f8a80"/><ellipse cx="420" cy="530" rx="100" ry="70" fill="#33967e"/>
<ellipse cx="130" cy="590" rx="100" ry="38" fill="#2f8a80"/>
<ellipse cx="180" cy="270" rx="60" ry="55" fill="#441762"/><ellipse cx="300" cy="420" rx="80" ry="70" fill="#44165f"/>
<ellipse cx="430" cy="300" rx="60" ry="55" fill="#44175f"/>
</g>
<rect width="537" height="628" fill="url(#spD)" opacity=".5"/>
<rect width="537" height="628" fill="url(#spD2)" opacity=".3"/>
</g>
<use href="#holes"/>
</g>
<line class="al" x1="0" y1="98.5" x2="0" y2="783"/><line class="al" x1="-1.3" y1="782" x2="586" y2="782"/>
<line class="tm" x1="25.6" y1="783" x2="25.6" y2="793"/><line class="tm" x1="147.5" y1="783" x2="147.5" y2="793"/><line class="tm" x1="269.4" y1="783" x2="269.4" y2="793"/><line class="tm" x1="391.3" y1="783" x2="391.3" y2="793"/><line class="tm" x1="513.2" y1="783" x2="513.2" y2="793"/>
<line class="tm" x1="-10" y1="258.3" x2="-1" y2="258.3"/><line class="tm" x1="-10" y1="501.7" x2="-1" y2="501.7"/><line class="tm" x1="-10" y1="745.1" x2="-1" y2="745.1"/>
<text class="tk" x="25.6" y="827">-5000</text><text class="tk" x="147.5" y="827">0</text><text class="tk" x="269.4" y="827">5000</text><text class="tk" x="391.3" y="827">10000</text><text class="tk" x="513.2" y="827">15000</text>
<text class="tk" transform="translate(-25,258.3) rotate(-90)">-140000</text><text class="tk" transform="translate(-25,501.7) rotate(-90)">-150000</text><text class="tk" transform="translate(-25,745.1) rotate(-90)">-160000</text>
<text class="at" x="293" y="870">coord x</text><text class="at" transform="translate(-70,440) rotate(-90)">coord y</text>
<rect x="654" y="260" width="72" height="359" fill="url(#cb)"/>
<line class="cw" x1="654" y1="349" x2="668" y2="349"/><line class="cw" x1="712" y1="349" x2="726" y2="349"/>
<line class="cw" x1="654" y1="440" x2="668" y2="440"/><line class="cw" x1="712" y1="440" x2="726" y2="440"/>
<line class="cw" x1="654" y1="529" x2="668" y2="529"/><line class="cw" x1="712" y1="529" x2="726" y2="529"/>
<line class="cw" x1="654" y1="618.5" x2="668" y2="618.5"/><line class="cw" x1="712" y1="618.5" x2="726" y2="618.5"/>
<text class="lg" x="750" y="360">7.5</text><text class="lg" x="750" y="451">5.0</text><text class="lg" x="750" y="540">2.5</text><text class="lg" x="750" y="630">0.0</text>
</g>
</svg>
</body></html>
